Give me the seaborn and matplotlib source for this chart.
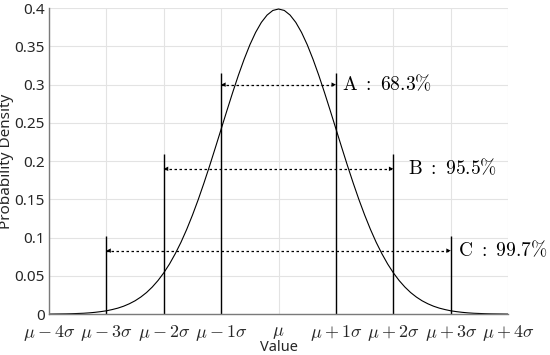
import numpy as np
import pandas as pd
import matplotlib
matplotlib.use("Agg")
import matplotlib.pyplot as plt
import seaborn as sns

x_vals = np.round(np.arange(-40, 41) / 10, 1)
pdf_vals = [0.0001, 0.0002, 0.0003, 0.0004, 0.0006, 0.0009, 0.0012, 0.0017, 0.0024, 0.0033,
            0.0044, 0.0060, 0.0079, 0.0104, 0.0136, 0.0175, 0.0224, 0.0283, 0.0355, 0.0440,
            0.0540, 0.0656, 0.0790, 0.0940, 0.1109, 0.1295, 0.1497, 0.1714, 0.1942, 0.2179,
            0.2420, 0.2661, 0.2897, 0.3123, 0.3332, 0.3521, 0.3683, 0.3814, 0.3910, 0.3970,
            0.3989,
            0.3970, 0.3910, 0.3814, 0.3683, 0.3521, 0.3332, 0.3123, 0.2897, 0.2661, 0.2420,
            0.2179, 0.1942, 0.1714, 0.1497, 0.1295, 0.1109, 0.0940, 0.0790, 0.0656, 0.0540,
            0.0440, 0.0355, 0.0283, 0.0224, 0.0175, 0.0136, 0.0104, 0.0079, 0.0060, 0.0044,
            0.0033, 0.0024, 0.0017, 0.0012, 0.0009, 0.0006, 0.0004, 0.0003, 0.0002, 0.0001]

# vertical markers at +-k sigma
marker_x = [-3, -2, -1, 1, 2, 3]
marker_h = [0.102, 0.21, 0.315, 0.315, 0.21, 0.102]

# ranges (double arrows) and their labels
range_k = [1, 2, 3]
range_y = [0.3, 0.19, 0.083]
range_labels = [r"$\mathrm{A\ :\ 68.3\%}$", r"$\mathrm{B\ :\ 95.5\%}$", r"$\mathrm{C\ :\ 99.7\%}$"]
label_x = [1.1, 2.26, 3.12]

x_ticks = [-4, -3, -2, -1, 0, 1, 2, 3, 4]
x_ticklabels = [r"$\mu-4\sigma$", r"$\mu-3\sigma$", r"$\mu-2\sigma$", r"$\mu-1\sigma$", r"$\mu$",
                r"$\mu+1\sigma$", r"$\mu+2\sigma$", r"$\mu+3\sigma$", r"$\mu+4\sigma$"]
y_ticks = [0, 0.05, 0.1, 0.15, 0.2, 0.25, 0.3, 0.35, 0.4]
y_ticklabels = ["0", "0.05", "0.1", "0.15", "0.2", "0.25", "0.3", "0.35", "0.4"]

sns.set_style("whitegrid")
plt.rcParams['font.family'] = ['Noto Sans', 'DejaVu Sans']
plt.rcParams['mathtext.fontset'] = 'cm'

fig = plt.figure(figsize=(5.5, 3.55), dpi=100)
ax = fig.add_axes([0.089, 0.115, 0.835, 0.862])

df = pd.DataFrame({"x": x_vals, "pdf": pdf_vals})
sns.lineplot(data=df, x="x", y="pdf", color="black", linewidth=0.8, ax=ax)

ax.vlines(marker_x, 0, marker_h, color="black", linewidth=1.0)

for k, y, lab, lx in zip(range_k, range_y, range_labels, label_x):
    ax.hlines(y, -k, k, color="black", linewidth=0.9, linestyles=(0, (2, 2)))
    for sgn in (-1, 1):
        ax.annotate("", xy=(sgn * k, y), xytext=(sgn * (k - 0.12), y),
                    arrowprops=dict(arrowstyle="-|>", color="black", lw=0.01,
                                    mutation_scale=8, shrinkA=0, shrinkB=0))
    ax.text(lx, y, lab, fontsize=14, va="center", ha="left", color="black")

ax.set_xlim(-4, 4)
ax.set_ylim(0, 0.4)
ax.set_xticks(x_ticks)
ax.set_xticklabels(x_ticklabels, fontsize=13)
ax.set_yticks(y_ticks)
ax.set_yticklabels(y_ticklabels, fontsize=11)
ax.set_xlabel("Value", fontsize=10.5, labelpad=-2)
ax.set_ylabel("Probability Density", fontsize=11)
ax.yaxis.set_label_coords(-0.076, 0.5)

ax.grid(True, color="#e3e3e3", linewidth=0.8)
for side in ["top", "right"]:
    ax.spines[side].set_visible(False)
for side in ["left", "bottom"]:
    ax.spines[side].set_color("#7a7a7a")
    ax.spines[side].set_linewidth(1.0)
ax.tick_params(direction="in", length=3, color="#7a7a7a")
ax.tick_params(axis="x", pad=6)
ax.tick_params(axis="y", pad=3)

plt.savefig("out.png", dpi=100)
plt.close()
